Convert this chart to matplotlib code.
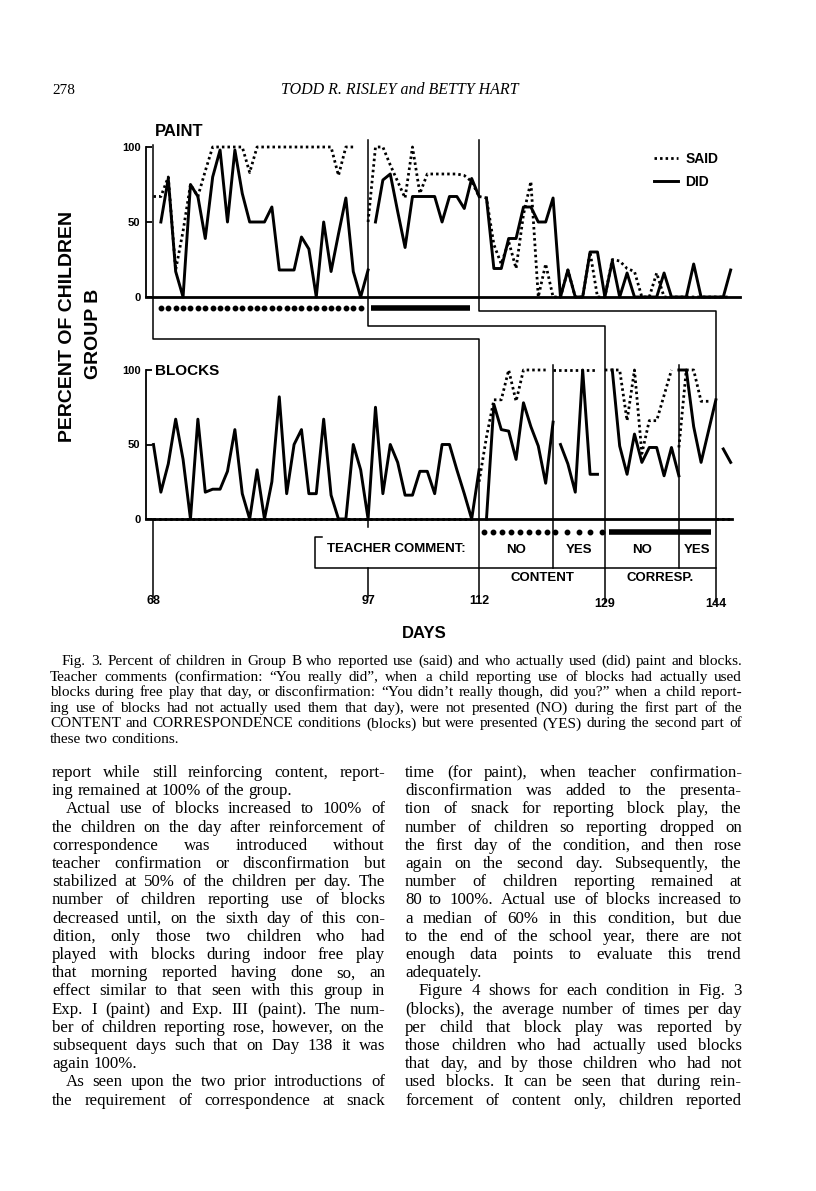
import numpy as np
import matplotlib.pyplot as plt
from matplotlib.lines import Line2D

W, H = 816, 1191

# percent of children, one value per school day; each list starts on the day in *_starts
paint_did_1 = [50, 79, 17, 0, 75, 67, 39, 80, 98, 50, 98, 69, 50, 50, 50, 60, 18, 18, 18,
               40, 32, 0, 50, 17, 42, 66, 17, 0, 18]
paint_did_2 = [50, 78, 82, 57, 33, 67, 67, 67, 67, 50, 67, 67, 59, 79, 67]
paint_did_3 = [66, 19, 19, 39, 39, 60, 60, 50, 50, 66, 0, 18, 0, 0, 30, 30, 0, 24, 0, 16,
               0, 0, 0, 0, 16, 0, 0, 0, 22, 0, 0, 0, 0, 18]
paint_did_starts = [69, 98, 113]

paint_said_1 = [67, 67, 80, 18, 44, 75, 67, 84, 100, 100, 100, 100, 100, 83, 100, 100,
                100, 100, 100, 100, 100, 100, 100, 100, 100, 81, 100, 100]
paint_said_2 = [50, 100, 100, 88, 77, 66, 100, 69, 82, 82, 82, 82, 82, 81, 77, 67]
paint_said_3 = [67, 66, 35, 22, 37, 19, 55, 77, 0, 22, 0, 0, 18, 0, 0, 30, 0, 0, 25, 24,
                19, 17, 0, 0, 16, 0, 0, 0, 0, 0, 0, 0, 0, 0, 0]
paint_said_starts = [68, 97, 112]

blocks_did_1 = [50, 18, 37, 67, 40, 0, 67, 18, 20, 20, 32, 60, 17, 0, 33, 0, 25, 82, 17, 50,
                60, 17, 17, 67, 16, 0, 0, 50, 33, 0, 75, 17, 50, 38, 16, 16, 32, 32, 17, 50,
                50, 33, 17, 0, 33]
blocks_did_2 = [0, 77, 60, 59, 40, 78, 62, 49, 24, 65]
blocks_did_3 = [50, 37, 18, 100, 30, 30]
blocks_did_4 = [100, 49, 30, 57, 38, 48, 48, 29, 48, 29]
blocks_did_5 = [100, 100, 62, 38, 59, 80]
blocks_did_6 = [47, 38]
blocks_did_starts = [68, 113, 123, 130, 139, 145]

blocks_said_1 = [0, 0, 0, 0, 0, 0, 0, 0, 0, 0, 0, 0, 0, 0, 0, 0, 0, 0, 0, 0, 0, 0,
                 0, 0, 0, 0, 0, 0, 0, 0, 0, 0, 0, 0, 0, 0, 0, 0, 0, 0, 0, 0, 0, 0]
blocks_said_2 = [25, 55, 80, 80, 100, 79, 100, 100, 100, 100]
blocks_said_3 = [100, 100, 100, 100, 100, 100, 100]
blocks_said_4 = [100, 100, 100, 66, 100, 44, 66, 66, 83, 100]
blocks_said_5 = [48, 100, 100, 79, 79]
blocks_said_6 = [0, 0, 0]
blocks_said_starts = [68, 112, 122, 129, 139, 144]

day_ticks = [68, 97, 112, 129, 144]
blocks_phase_days = [112, 122, 129, 139, 144]
teacher_cells = ["NO", "YES", "NO", "YES"]
condition_names = ["CONTENT", "CORRESP."]
condition_spans = [(112, 129), (129, 144)]

caption = [
    "Fig. 3. Percent of children in Group B who reported use (said) and who actually used (did) paint and blocks.",
    "Teacher comments (confirmation: \u201cYou really did\u201d, when a child reporting use of blocks had actually used",
    "blocks during free play that day, or disconfirmation: \u201cYou didn\u2019t really though, did you?\u201d when a child report-",
    "ing use of blocks had not actually used them that day), were not presented (NO) during the first part of the",
    "CONTENT and CORRESPONDENCE conditions (blocks) but were presented (YES) during the second part of",
    "these two conditions.",
]

# (text, indented, last line of paragraph)
left_col = [
    ("report while still reinforcing content, report-", False, False),
    ("ing remained at 100% of the group.", False, True),
    ("Actual use of blocks increased to 100% of", True, False),
    ("the children on the day after reinforcement of", False, False),
    ("correspondence was introduced without", False, False),
    ("teacher confirmation or disconfirmation but", False, False),
    ("stabilized at 50% of the children per day. The", False, False),
    ("number of children reporting use of blocks", False, False),
    ("decreased until, on the sixth day of this con-", False, False),
    ("dition, only those two children who had", False, False),
    ("played with blocks during indoor free play", False, False),
    ("that morning reported having done so, an", False, False),
    ("effect similar to that seen with this group in", False, False),
    ("Exp. I (paint) and Exp. III (paint). The num-", False, False),
    ("ber of children reporting rose, however, on the", False, False),
    ("subsequent days such that on Day 138 it was", False, False),
    ("again 100%.", False, True),
    ("As seen upon the two prior introductions of", True, False),
    ("the requirement of correspondence at snack", False, False),
]
right_col = [
    ("time (for paint), when teacher confirmation-", False, False),
    ("disconfirmation was added to the presenta-", False, False),
    ("tion of snack for reporting block play, the", False, False),
    ("number of children so reporting dropped on", False, False),
    ("the first day of the condition, and then rose", False, False),
    ("again on the second day. Subsequently, the", False, False),
    ("number of children reporting remained at", False, False),
    ("80 to 100%. Actual use of blocks increased to", False, False),
    ("a median of 60% in this condition, but due", False, False),
    ("to the end of the school year, there are not", False, False),
    ("enough data points to evaluate this trend", False, False),
    ("adequately.", False, True),
    ("Figure 4 shows for each condition in Fig. 3", True, False),
    ("(blocks), the average number of times per day", False, False),
    ("per child that block play was reported by", False, False),
    ("those children who had actually used blocks", False, False),
    ("that day, and by those children who had not", False, False),
    ("used blocks. It can be seen that during rein-", False, False),
    ("forcement of content only, children reported", False, False),
]

plt.rcParams['font.family'] = 'Liberation Sans'
SERIF = 'Liberation Serif'

fig = plt.figure(figsize=(W / 100, H / 100), dpi=100)
ov = fig.add_axes([0, 0, 1, 1])
ov.set_xlim(0, W)
ov.set_ylim(H, 0)
ov.axis('off')


def px_axes(left, top, right, bottom):
    return fig.add_axes([left / W, 1 - bottom / H, (right - left) / W, (bottom - top) / H])


ax_p = px_axes(146, 147, 740, 297)
ax_b = px_axes(146, 370, 732, 519)
day_left = 66.99
ax_p.set_xlim(day_left, day_left + 594 / 7.4)
ax_b.set_xlim(day_left, day_left + 586 / 7.4)

for ax in (ax_p, ax_b):
    ax.set_ylim(0, 100)
    ax.patch.set_visible(False)
    ax.spines[['top', 'right']].set_visible(False)
    ax.spines['left'].set_linewidth(1.3)
    ax.spines['bottom'].set_linewidth(2.0)
    ax.set_xticks([])
    ax.set_yticks([0, 50, 100])
    ax.tick_params(axis='y', direction='in', length=4, width=1.3, pad=4, labelsize=8)
    for lab in ax.get_yticklabels():
        lab.set_fontweight('bold')

solid = dict(color='black', lw=2.1, clip_on=False)
dotted = dict(color='black', lw=2.0, linestyle=(0, (0.9, 1.1)), clip_on=False)


def draw(ax, starts, series, style):
    for s, vals in zip(starts, series):
        ax.plot(np.arange(s, s + len(vals)), vals, **style)


draw(ax_p, paint_said_starts, [paint_said_1, paint_said_2, paint_said_3], dotted)
draw(ax_p, paint_did_starts, [paint_did_1, paint_did_2, paint_did_3], solid)
draw(ax_b, blocks_said_starts, [blocks_said_1, blocks_said_2, blocks_said_3,
                                blocks_said_4, blocks_said_5, blocks_said_6], dotted)
draw(ax_b, blocks_did_starts, [blocks_did_1, blocks_did_2, blocks_did_3,
                               blocks_did_4, blocks_did_5, blocks_did_6], solid)

# condition markers under the baselines: dots = content, bar = correspondence
dots_p = np.arange(69, 97)
ax_p.plot(dots_p, np.full(len(dots_p), -7.5), 'o', ms=3.2, color='k', clip_on=False)
ax_p.plot([97.4, 110.8], [-7.5, -7.5], color='k', lw=4, solid_capstyle='butt', clip_on=False)
for a, b, n in [(112.6, 121.2, 8), (122.3, 128.6, 5)]:
    d = np.linspace(a, b, n)
    ax_b.plot(d, np.full(n, -8.5), 'o', ms=3.2, color='k', clip_on=False)
ax_b.plot([129.6, 143.4], [-8.5, -8.5], color='k', lw=4, solid_capstyle='butt', clip_on=False)

handles = [Line2D([], [], color='black', lw=2.0, linestyle=(0, (0.9, 1.1))),
           Line2D([], [], color='black', lw=2.1)]
ax_p.legend(handles, ['SAID', 'DID'], loc='upper left', bbox_to_anchor=((654 - 146) / 594, 0.965),
            frameon=False, handlelength=1.7, handletextpad=0.55, labelspacing=0.65,
            borderpad=0, borderaxespad=0,
            prop={'family': 'Liberation Sans', 'weight': 'bold', 'size': 10})


def day_x(d):
    return ax_p.transData.transform((d, 0))[0]


line_kw = dict(color='black', lw=1.1)
# phase lines that run from the paint panel down to the blocks panel
for d_top, d_bot, y_top, y_h, y_end in [(68, 112, 145, 339, 598), (97, 129, 140, 326, 602),
                                        (112, 144, 140, 311, 602)]:
    ov.plot([day_x(d_top), day_x(d_top), day_x(d_bot), day_x(d_bot)],
            [y_top, y_h, y_h, y_end], **line_kw)
for d in (122, 139):
    ov.plot([day_x(d)] * 2, [365, 568], **line_kw)
ov.plot([day_x(68)] * 2, [519, 598], **line_kw)
ov.plot([day_x(97)] * 2, [519, 527], **line_kw)
ov.plot([day_x(97)] * 2, [568, 597], **line_kw)

# teacher comment table
ov.plot([322, 315, 315, day_x(144)], [537, 537, 568, 568], **line_kw)
bold = dict(fontweight='bold', ha='center', va='center')
ov.text(396, 549, 'TEACHER COMMENT:', fontsize=9.5, **bold)
for lab, a, b in zip(teacher_cells, blocks_phase_days[:-1], blocks_phase_days[1:]):
    ov.text((day_x(a) + day_x(b)) / 2, 550, lab, fontsize=9.5, **bold)
for lab, (a, b) in zip(condition_names, condition_spans):
    ov.text((day_x(a) + day_x(b)) / 2, 578, lab, fontsize=9.5, **bold)
for d in day_ticks:
    ov.text(day_x(d), 601 if d <= 112 else 604, str(d), fontsize=9, **bold)
ov.text(424, 634, 'DAYS', fontsize=12, **bold)

ov.text(155, 132, 'PAINT', fontsize=12, fontweight='bold', ha='left', va='center')
ov.text(155, 371, 'BLOCKS', fontsize=11, fontweight='bold', ha='left', va='center')
ov.text(67, 326, 'PERCENT OF CHILDREN', fontsize=14, rotation=90, **bold)
ov.text(94, 334, 'GROUP B', fontsize=14, rotation=90, **bold)

# page header
ov.text(52, 90, '278', fontsize=11, family=SERIF, ha='left', va='center')
ov.text(400, 90, 'TODD R. RISLEY and BETTY HART', fontsize=11.5, family=SERIF,
        style='italic', ha='center', va='center')

renderer = fig.canvas.get_renderer()


def set_line(text, x0, x1, y, size, justify=True):
    words = text.split()
    items = [ov.text(0, y, w, fontsize=size, family=SERIF, ha='left', va='baseline') for w in words]
    space = size * 100 / 72 * 0.25
    while True:
        widths = [t.get_window_extent(renderer).width for t in items]
        if len(words) < 2 or not justify:
            gap = space
            break
        gap = (x1 - x0 - sum(widths)) / (len(words) - 1)
        if gap >= 0.7 * space:
            break
        size *= 0.98
        space = size * 100 / 72 * 0.25
        for t in items:
            t.set_fontsize(size)
    x = x0
    for t, w in zip(items, widths):
        t.set_x(x)
        x += w + gap


for i, line in enumerate(caption):
    x0 = 62 if i == 0 else 50
    set_line(line, x0, 742, 665 + 15.6 * i, 11, justify=i < len(caption) - 1)

for col, (x0, x1) in [(left_col, (52, 385)), (right_col, (405, 742))]:
    for i, (txt, indent, last) in enumerate(col):
        set_line(txt, x0 + (14 if indent else 0), x1, 777 + 18.2 * i, 12.2, justify=not last)

fig.savefig('out.png', dpi=100)
